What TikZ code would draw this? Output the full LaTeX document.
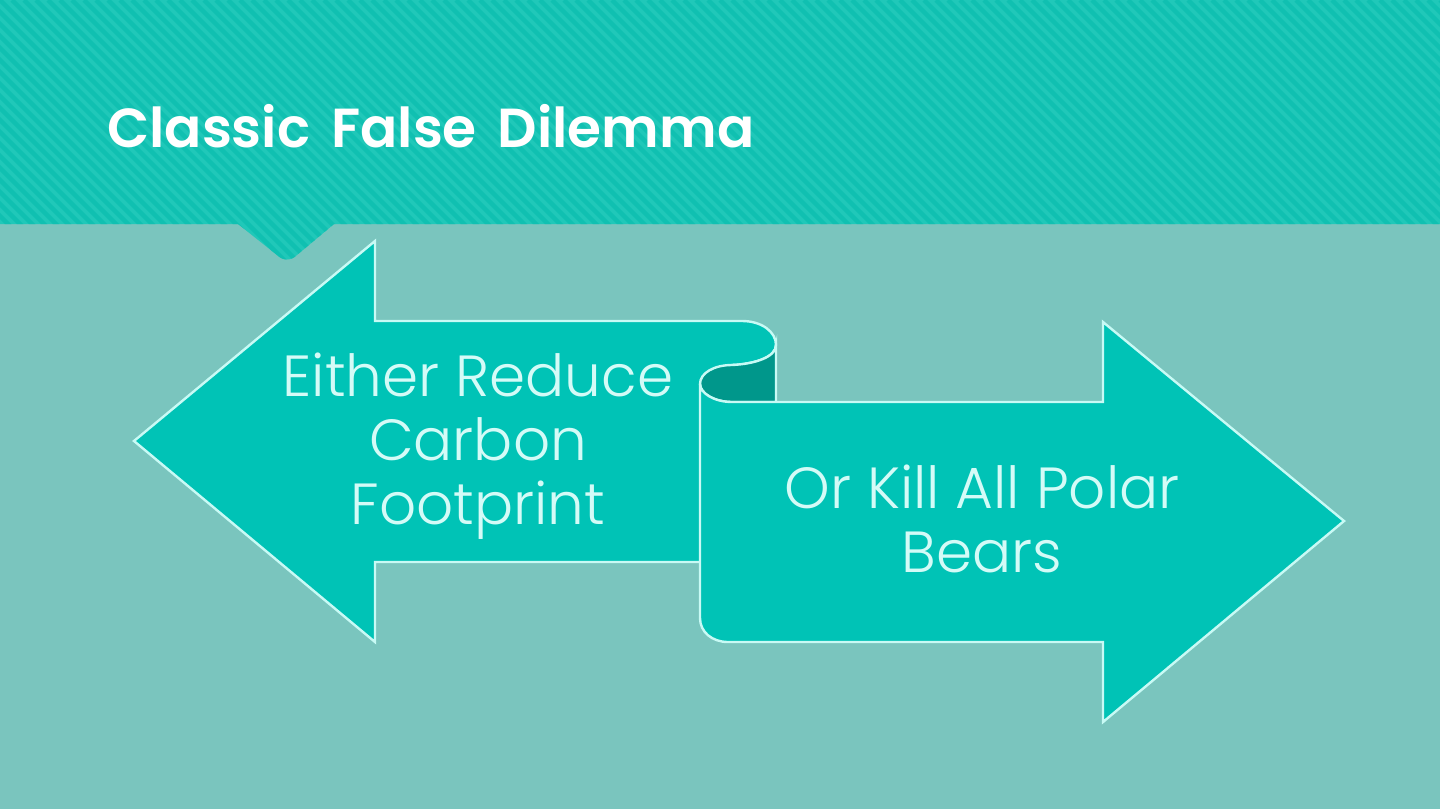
\documentclass[tikz,border=0pt]{standalone}
\usepackage{fontspec}
\setmainfont{Poppins}
\newfontfamily\lightfont{Poppins Light}
\newfontfamily\titlefont[WordSpace=1.6]{Poppins SemiBold}
\definecolor{pagebg}{HTML}{7AC5BE}
\definecolor{bandbase}{HTML}{20C8B9}
\definecolor{bandstripe}{HTML}{10C0B1}
\definecolor{arrowfill}{HTML}{00C3B6}
\definecolor{folddark}{HTML}{00978B}
\definecolor{edgeline}{HTML}{C8FAF5}
\definecolor{bodyink}{HTML}{D4FBF7}
\tikzset{
  ribbon/.style={fill=arrowfill,draw=edgeline,line width=2.4pt,line join=miter},
  fold/.style={fill=folddark,draw=edgeline,line width=2.4pt},
  bodytext/.style={text=bodyink,align=center,font=\lightfont\fontsize{58}{64}\selectfont,inner sep=0pt},
  titletext/.style={text=white,anchor=west,font=\titlefont\fontsize{55}{64}\selectfont,inner sep=0pt}
}
\begin{document}
\begin{tikzpicture}[x=1pt,y=-1pt]
\useasboundingbox (0,0) rectangle (1440,809);
\fill[pagebg] (0,0) rectangle (1440,809);
\begin{scope}
\clip (0,0) -- (1440,0) -- (1440,224) -- (334,224) -- (297,255)
  .. controls (291,261) and (283,261) .. (277,255)
  -- (238,224) -- (0,224) -- cycle;
\fill[bandbase] (0,0) rectangle (1440,262);
\foreach \k in {-24,...,124}
  \draw[bandstripe,line width=4.5pt] (\k*12,0) -- ++(270,270);
\end{scope}
\path[ribbon] (134,441) -- (375,241) -- (375,321) -- (742,321)
  .. controls (762,321) and (776,332) .. (776,345)
  .. controls (776,357) and (755,364) .. (732,365)
  -- (732,562) -- (375,562) -- (375,642) -- cycle;
\path[fold] (776,345) -- (776,402) -- (732,402)
  .. controls (714,402) and (700,393) .. (700,384)
  .. controls (700,373) and (714,365) .. (732,365)
  .. controls (755,364) and (776,357) .. (776,345) -- cycle;
\path[ribbon] (700,384) .. controls (700,393) and (714,402) .. (732,402)
  -- (1103,402) -- (1103,322) -- (1344,521) -- (1103,722) -- (1103,642) -- (728,642)
  .. controls (712,642) and (700,632) .. (700,618) -- cycle;
\node[titletext] (title) at (107,126) {Classic False Dilemma};
\node[bodytext] (left) at (478,446) {Either Reduce\\Carbon\\Footprint};
\node[bodytext] (right) at (982,519) {Or Kill All Polar\\Bears};
\end{tikzpicture}
\end{document}
